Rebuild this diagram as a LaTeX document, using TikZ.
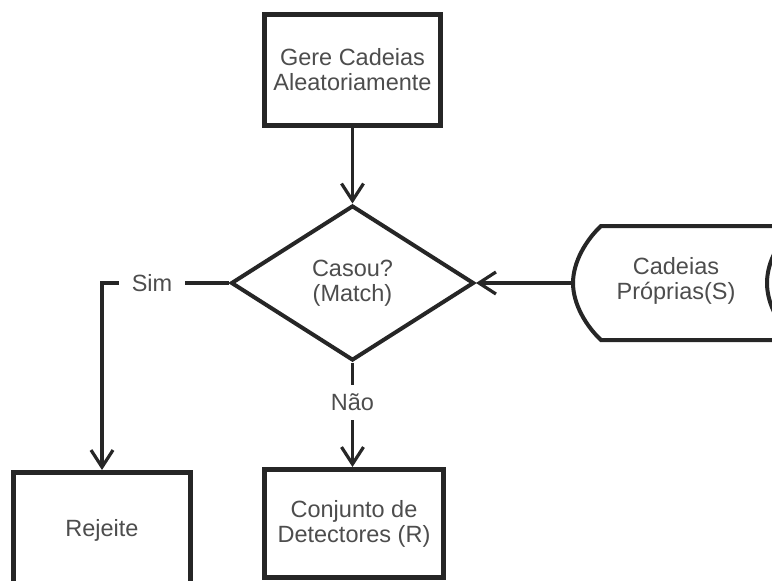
\documentclass[tikz,border=0pt]{standalone}
\usepackage{fontspec}
\setmainfont{Liberation Sans}
\usetikzlibrary{shapes.geometric,arrows.meta}
\definecolor{ink}{HTML}{262626}
\definecolor{txt}{HTML}{4D4D4D}
\begin{document}
\begin{tikzpicture}[x=1pt,y=-1pt,
  font=\fontsize{23.5}{25}\selectfont,
  box/.style={draw=ink, line width=5pt, fill=white, text=txt, align=center, inner sep=0pt},
  decision/.style={diamond, draw=ink, line width=4pt, fill=white, text=txt, align=center, inner sep=0pt},
  label/.style={text=txt, inner sep=0pt},
  conn/.style={draw=ink, line width=3.2pt},
  arr/.style={conn, -{Straight Barb[length=17pt,width=22pt]}}]

\path[use as bounding box] (0,0) rectangle (772,581);
\clip (0,0) rectangle (772,581);

% process boxes
\node[box, minimum width=176pt, minimum height=111pt] (gen) at (352.5,69.5) {Gere Cadeias\\Aleatoriamente};
\node[box, minimum width=177pt, minimum height=115pt] (rej) at (102,530) {Rejeite};
\node[box, minimum width=179pt, minimum height=108pt] (conj) at (354,523.5) {Conjunto de\\Detectores (R)};

% decision
\node[decision, minimum width=243pt, minimum height=155pt] (dia) at (352.5,283) {Casou?\\(Match)};

% stored data
\draw[ink, line width=4pt, fill=white]
  (796,226) -- (601,226)
  .. controls (586,240) and (573,262) .. (573,283)
  .. controls (573,304) and (586,326) .. (601,340) -- (796,340);
\draw[ink, line width=4pt]
  (796,226) .. controls (779,240) and (767,262) .. (767,283)
  .. controls (767,304) and (779,326) .. (796,340);
\node[label, align=center] (store) at (676,281) {Cadeias\\Próprias(S)};
\coordinate (storeL) at (571,283);

% branch labels
\node[label, inner xsep=13pt] (sim) at (152,283) {Sim};
\node[label, inner ysep=9pt] (nao) at (352.5,402.5) {Não};

% connectors
\draw[arr] (gen.south) -- (gen.south |- dia.north);
\draw[arr] (storeL) -- (dia.east);
\draw[conn] (dia.west) -- (sim.east);
\draw[arr] (sim.west) -| (rej.north);
\draw[conn] (dia.south) -- (nao.north);
\draw[arr] (nao.south) -- (nao.south |- conj.north);
\end{tikzpicture}
\end{document}
